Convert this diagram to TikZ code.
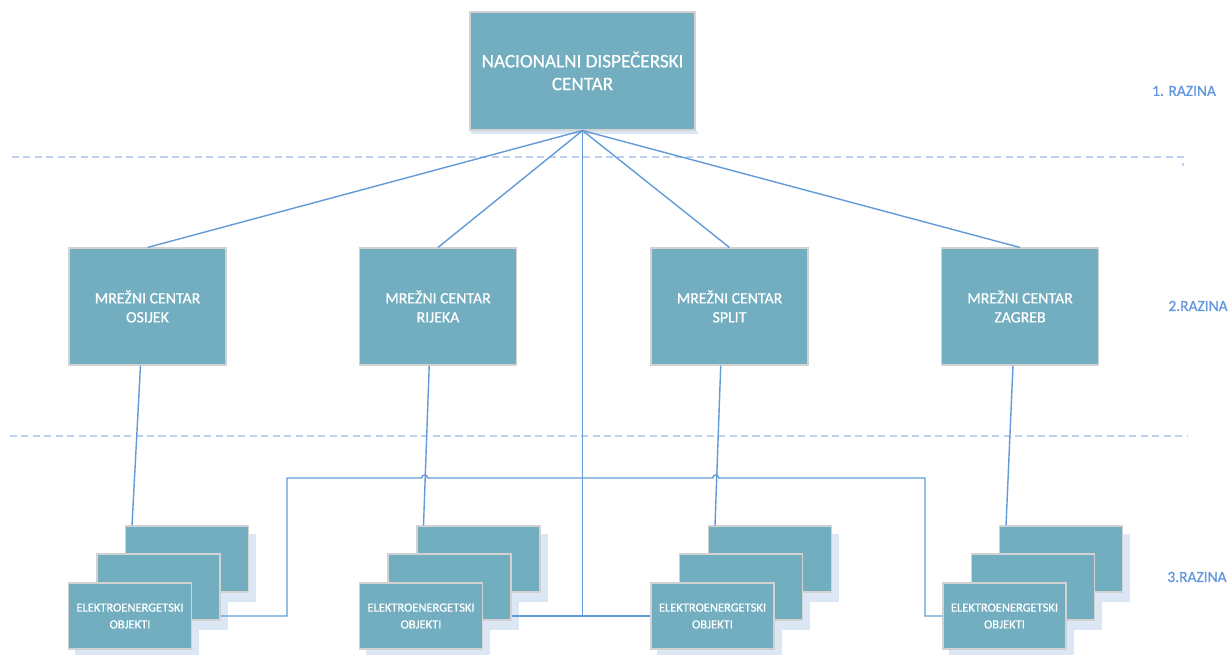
\documentclass[tikz,border=0pt]{standalone}
\usepackage{fontspec}
\setmainfont{Carlito}[FakeBold=0.6]
\usetikzlibrary{positioning,backgrounds}

\definecolor{boxfill}{RGB}{114,174,191}
\definecolor{wire}{RGB}{98,155,215}
\definecolor{levelblue}{RGB}{98,150,220}
\definecolor{dashblue}{RGB}{190,208,236}
\definecolor{shadowblue}{RGB}{220,231,245}

\tikzset{
  unit/.style={draw=gray!35, fill=boxfill, text=white, align=center, inner sep=1pt, line width=0.6pt},
  ndcbox/.style={unit, minimum width=4.5cm, minimum height=2.36cm, font=\fontsize{10.9}{13}\selectfont},
  centerbox/.style={unit, minimum width=3.14cm, minimum height=2.34cm, font=\fontsize{9}{10.8}\selectfont},
  objbox/.style={unit, minimum width=2.46cm, minimum height=1.32cm, font=\fontsize{7.1}{9.6}\selectfont},
  link/.style={wire, line width=0.8pt},
  levelline/.style={dashblue, line width=0.8pt, dash pattern=on 4pt off 2.5pt},
  levellabel/.style={levelblue, font=\fontsize{8.8}{10}\selectfont}
}

\begin{document}
\begin{tikzpicture}[x=0.2mm, y=-0.2mm]
  \useasboundingbox (0,0) rectangle (1229,655);

  % Level separators
  \draw[levelline] (12,157) -- (1183,157) -- (1183,166);
  \draw[levelline] (10,436) -- (1188,436);

  % Level labels
  \node[levellabel] (lvl1) at (1184,91) {1. RAZINA};
  \node[levellabel] (lvl2) at (1198,306) {2.RAZINA};
  \node[levellabel] (lvl3) at (1197,577) {3.RAZINA};

  % National dispatch centre
  \node[ndcbox] (ndc) at (582.5,71) {NACIONALNI DISPEČERSKI\\CENTAR};

  % Network centres
  \node[centerbox] (osijek) at (147.5,306.5) {MREŽNI CENTAR\\OSIJEK};
  \node[centerbox] (rijeka) at (438,306.5) {MREŽNI CENTAR\\RIJEKA};
  \node[centerbox] (split) at (729.5,306.5) {MREŽNI CENTAR\\SPLIT};
  \node[centerbox] (zagreb) at (1020,306.5) {MREŽNI CENTAR\\ZAGREB};

  % Power facilities, three stacked sheets per centre
  \node[objbox] (obj1c) at (187,559) {};
  \node[objbox] (obj1b) at (158.5,587) {};
  \node[objbox] (obj1a) at (130,616) {ELEKTROENERGETSKI\\OBJEKTI};
  \node[objbox] (obj2c) at (478.5,559) {};
  \node[objbox] (obj2b) at (449.5,587) {};
  \node[objbox] (obj2a) at (421,616) {ELEKTROENERGETSKI\\OBJEKTI};
  \node[objbox] (obj3c) at (770,559) {};
  \node[objbox] (obj3b) at (741,587) {};
  \node[objbox] (obj3a) at (712.5,616) {ELEKTROENERGETSKI\\OBJEKTI};
  \node[objbox] (obj4c) at (1061,559) {};
  \node[objbox] (obj4b) at (1033,587) {};
  \node[objbox] (obj4a) at (1004.5,616) {ELEKTROENERGETSKI\\OBJEKTI};

  % Shadows behind the sheets
  \begin{scope}[on background layer]
    \foreach \b in {obj1a,obj1b,obj1c,obj2a,obj2b,obj2c,obj3a,obj3b,obj3c,obj4a,obj4b,obj4c}
      \fill[shadowblue] ([shift={(7,9)}]\b.north west) rectangle ([shift={(7,9)}]\b.south east);
    \fill[shadowblue] ([shift={(2,3)}]ndc.south west) rectangle ([shift={(2,0)}]ndc.south east);
  \end{scope}

  % Links from the national centre
  \draw[link] (ndc.south) -- (osijek.north);
  \draw[link] (ndc.south) -- (rijeka.north);
  \draw[link] (ndc.south) -- (split.north);
  \draw[link] (ndc.south) -- (zagreb.north);

  % Links from the network centres
  \draw[link] ([xshift=-4]osijek.south) -- ([xshift=4]obj1c.north west);
  \draw[link] ([xshift=-5]rijeka.south) -- ([xshift=4]obj2c.north west);
  \draw[link] ([xshift=-5]split.south) -- ([xshift=4]obj3c.north west);
  \draw[link] ([xshift=-4]zagreb.south) -- ([xshift=4]obj4c.north west);

  % Direct bus to the facilities, hopping over the slanted links
  \coordinate (busL) at (287,478);
  \coordinate (busR) at (925,478);
  \draw[link] (ndc.south) -- (ndc.south |- obj3a.west);
  \draw[link] (obj2b.east |- obj3a.west) -- (obj3a.west);
  \draw[link] (obj1b.east |- obj1a.west) -| (busL) -- (421.6,478)
    arc[start angle=180, end angle=360, radius=3] -- (712.7,478)
    arc[start angle=180, end angle=360, radius=3] -- (busR) |- (obj4a.west);
\end{tikzpicture}
\end{document}
